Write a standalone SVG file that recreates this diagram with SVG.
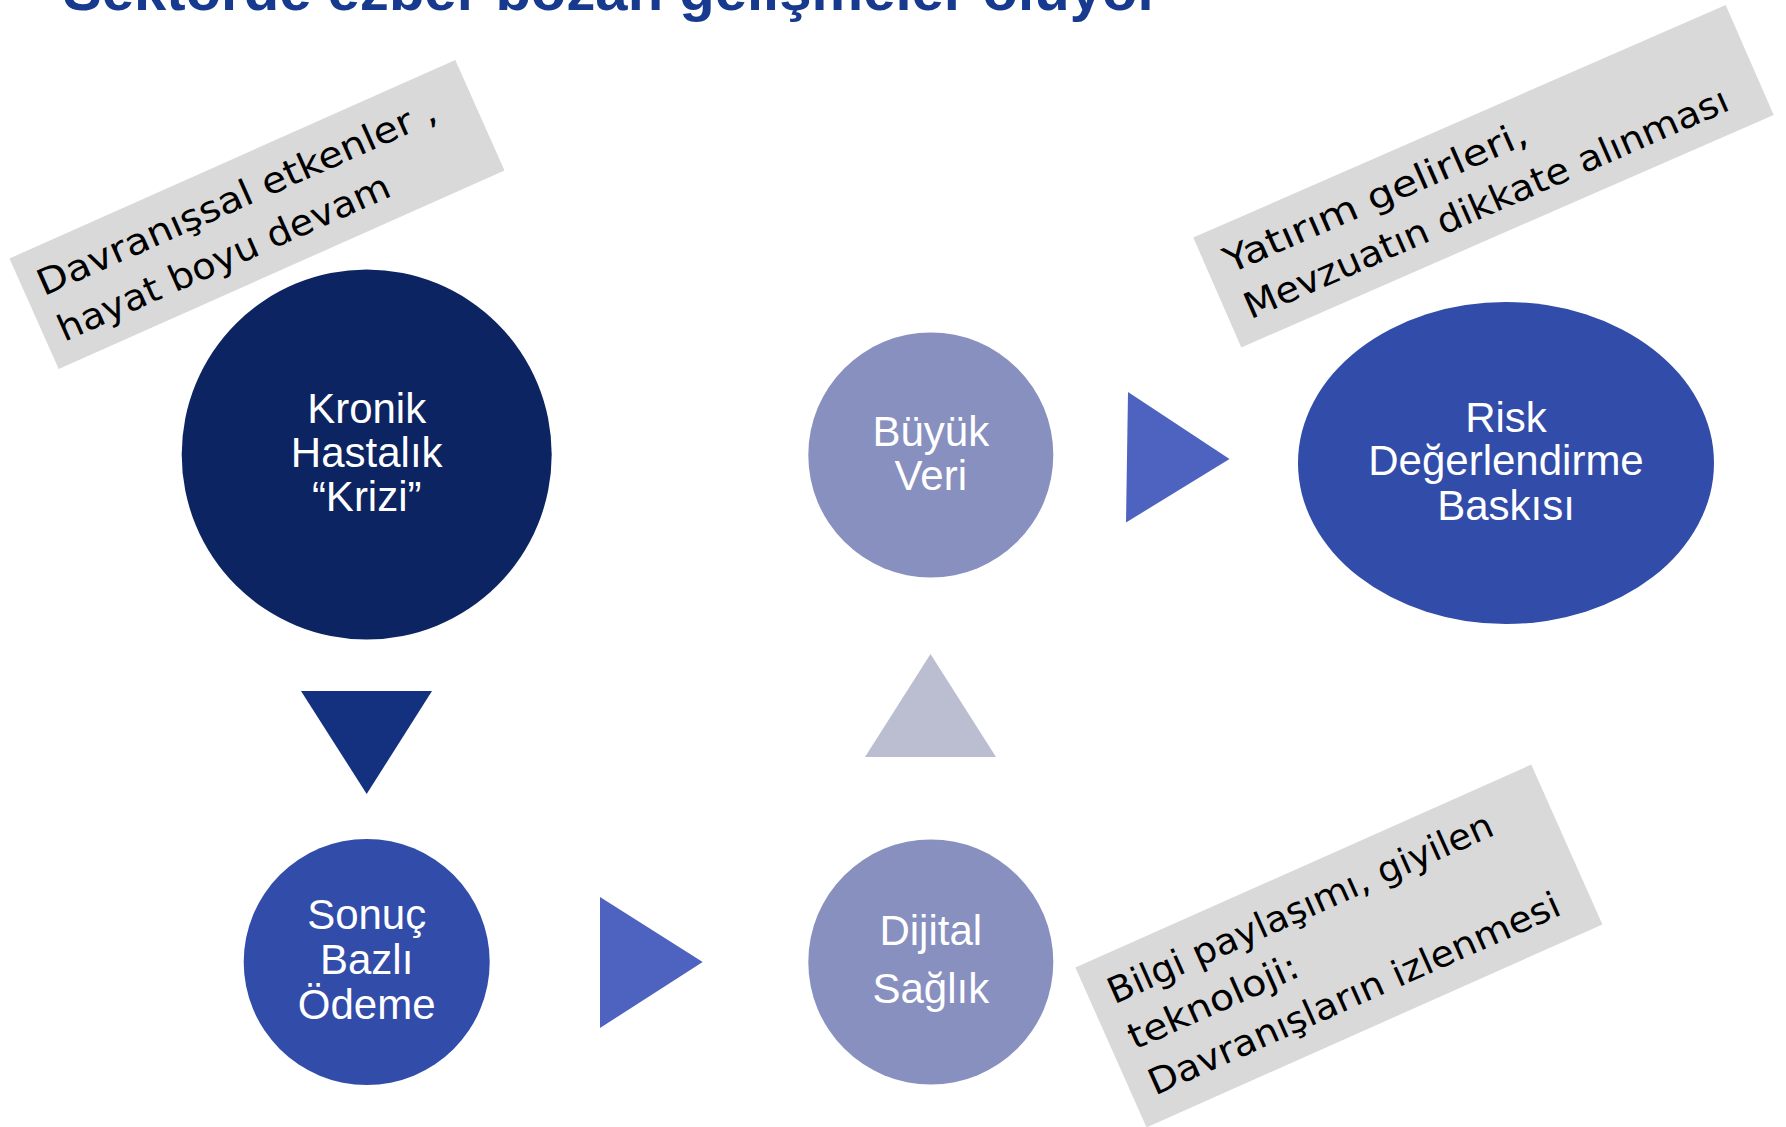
<svg xmlns="http://www.w3.org/2000/svg" width="1786" height="1127" viewBox="0 0 1786 1127">
<style>
.title{font-family:"Liberation Sans",Arial,sans-serif;font-weight:bold;font-size:58px;fill:#173A8E}
.lbl{font-family:"Liberation Sans",Arial,sans-serif;font-size:42px;fill:#FFFFFF;text-anchor:middle}
.note{font-family:"Comic Sans MS","DejaVu Sans",sans-serif;font-size:36px;fill:#000000}
.notebox{fill:#D9D9D9}
</style>
<rect width="1786" height="1127" fill="#FFFFFF"/>
<text class="title" x="63" y="10" textLength="1097" lengthAdjust="spacingAndGlyphs">Sektörde ezber bozan gelişmeler oluyor</text>

<g id="connectors">
  <polygon id="arrow-down" points="301,691 432,691 366.7,794" fill="#13317F"/>
  <polygon id="arrow-right-1" points="600,897 702.7,962 600,1028" fill="#4D63BF"/>
  <polygon id="arrow-up" points="930.5,654 865,757 996,757" fill="#BBBDD1"/>
  <polygon id="arrow-right-2" points="1128,392 1229.5,459 1126,522.5" fill="#4D63BF"/>
</g>

<g id="node-kronik">
  <circle cx="366.7" cy="454.5" r="185" fill="#0C2461"/>
  <text class="lbl"><tspan x="366.7" y="423">Kronik</tspan><tspan x="366.7" y="467">Hastalık</tspan><tspan x="366.7" y="511">“Krizi”</tspan></text>
</g>
<g id="node-buyuk-veri">
  <circle cx="930.8" cy="455" r="122.5" fill="#8790BF"/>
  <text class="lbl"><tspan x="930.8" y="446">Büyük</tspan><tspan x="930.8" y="490">Veri</tspan></text>
</g>
<g id="node-risk">
  <ellipse cx="1506" cy="463" rx="208" ry="161" fill="#314CA9"/>
  <text class="lbl"><tspan x="1506" y="432">Risk</tspan><tspan x="1506" y="475">Değerlendirme</tspan><tspan x="1506" y="520">Baskısı</tspan></text>
</g>
<g id="node-sonuc">
  <circle cx="366.7" cy="962" r="123" fill="#314CA9"/>
  <text class="lbl"><tspan x="366.7" y="929">Sonuç</tspan><tspan x="366.7" y="974">Bazlı</tspan><tspan x="366.7" y="1019">Ödeme</tspan></text>
</g>
<g id="node-dijital">
  <circle cx="930.8" cy="962" r="122.5" fill="#8790BF"/>
  <text class="lbl"><tspan x="930.8" y="945">Dijital</tspan><tspan x="930.8" y="1003">Sağlık</tspan></text>
</g>

<g id="note-davranissal" transform="translate(257,214.5) rotate(-24)">
  <rect class="notebox" x="-244" y="-60.5" width="488" height="121"/>
  <text class="note" x="-228" y="-12" textLength="433" lengthAdjust="spacingAndGlyphs">Davranışsal etkenler ,</text>
  <text class="note" x="-228" y="38" textLength="360" lengthAdjust="spacingAndGlyphs">hayat boyu devam</text>
</g>
<g id="note-yatirim" transform="translate(1483.5,176.2) rotate(-23.6)">
  <rect class="notebox" x="-290.5" y="-60" width="581" height="120"/>
  <text class="note" x="-271" y="-12" textLength="327" lengthAdjust="spacingAndGlyphs">Yatırım gelirleri,</text>
  <text class="note" x="-271" y="38" textLength="525" lengthAdjust="spacingAndGlyphs">Mevzuatın dikkate alınması</text>
</g>
<g id="note-bilgi" transform="translate(1338.9,946) rotate(-24)">
  <rect class="notebox" x="-249.5" y="-87.5" width="499" height="175"/>
  <text class="note" x="-229" y="-38" textLength="418" lengthAdjust="spacingAndGlyphs">Bilgi paylaşımı, giyilen</text>
  <text class="note" x="-229" y="12" textLength="183" lengthAdjust="spacingAndGlyphs">teknoloji:</text>
  <text class="note" x="-229" y="62" textLength="447" lengthAdjust="spacingAndGlyphs">Davranışların izlenmesi</text>
</g>
</svg>
